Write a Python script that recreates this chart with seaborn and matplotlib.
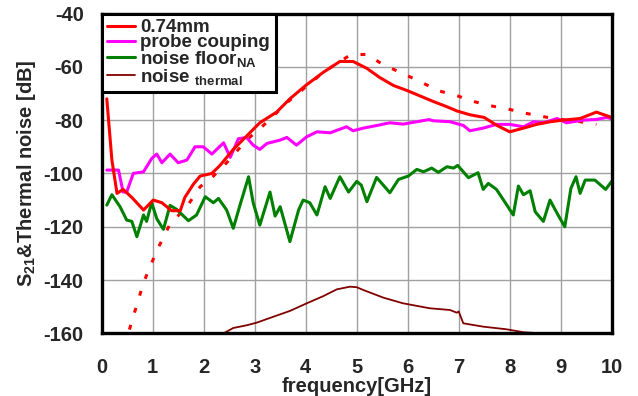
import numpy as np
import pandas as pd
import seaborn as sns
import matplotlib
matplotlib.use("Agg")
import matplotlib.pyplot as plt

# ---- data ----
freq_solid = [0.1, 0.2, 0.3, 0.42, 0.59, 0.82, 1.01, 1.18, 1.37, 1.54, 1.63, 1.8, 1.93, 2.16, 2.32,
              2.58, 2.84, 3.1, 3.43, 3.69, 4.0, 4.35, 4.67, 4.93, 5.2, 5.45, 5.72, 6.0, 6.25,
              6.5, 6.77, 6.97, 7.22, 7.5, 7.75, 8.0, 8.27, 8.53, 8.8, 9.05, 9.38, 9.7, 10.0]
s21_074mm = [-72, -95, -107.5, -106, -109, -113.75, -110, -111, -114, -114, -109, -104, -101, -100, -97,
             -91, -86, -81, -77, -72, -67, -62, -58, -58, -60.6, -64, -67, -69, -71,
             -73, -75, -76.6, -78, -79, -82, -84.4, -83, -81.6, -80.6, -80, -79.4, -77, -79]

freq_sim = [0.45, 0.56, 0.82, 1.08, 1.34, 1.67, 1.93, 2.19, 2.45, 2.84, 3.17, 3.69, 4.35, 4.87,
            5.2, 5.5, 5.9, 6.25, 6.6, 6.93, 7.29, 7.62, 8.0, 8.33, 8.67, 9.0, 9.38, 9.7]
s21_sim = [-165, -157.5, -141, -129, -119, -112.5, -105, -101, -96, -87.5, -82, -72.5, -62, -55.6,
           -55.3, -59, -62.5, -65.6, -69, -70.6, -73, -74.6, -76, -77.5, -78.75, -79.75, -80.6, -81.6]

freq_probe = [0.1, 0.33, 0.42, 0.49, 0.62, 0.82, 0.98, 1.08, 1.18, 1.34, 1.5, 1.67, 1.83, 1.99,
              2.16, 2.39, 2.52, 2.68, 2.84, 2.97, 3.1, 3.24, 3.5, 3.63, 3.82, 4.02, 4.22, 4.48,
              4.8, 4.93, 5.13, 5.4, 5.65, 5.91, 6.18, 6.42, 6.5, 6.83, 7.09, 7.22, 7.48, 7.74,
              8.0, 8.27, 8.47, 8.66, 8.93, 9.11, 9.44, 9.7, 9.9, 10.0]
s21_probe = [-98.75, -98.75, -107, -107, -100, -99.4, -94.4, -92.75, -96, -92.75, -96, -95, -90, -90,
             -92.75, -88.5, -94, -87, -86.5, -89.4, -91, -88.75, -87.5, -86.5, -89.4, -86.25, -84.4, -84.75,
             -82.5, -84, -83, -82, -81, -81.5, -80.6, -79.8, -80.25, -80.6, -82, -84, -83, -81.6,
             -81.6, -82.5, -80.6, -81, -79.4, -81, -80, -79.75, -79, -79.5]

freq_floor = [0.1, 0.2, 0.36, 0.49, 0.59, 0.69, 0.82, 0.88, 0.98, 1.08, 1.21, 1.34, 1.47, 1.7, 1.86,
              2.03, 2.19, 2.29, 2.45, 2.58, 2.71, 2.88, 2.97, 3.1, 3.3, 3.4, 3.5, 3.69, 3.86, 3.95,
              4.08, 4.22, 4.38, 4.48, 4.67, 4.84, 5.0, 5.09, 5.2, 5.39, 5.65, 5.82, 6.01, 6.18,
              6.31, 6.47, 6.6, 6.77, 6.9, 6.98, 7.19, 7.38, 7.48, 7.58, 7.74, 7.9, 8.07, 8.17,
              8.27, 8.4, 8.5, 8.66, 8.79, 8.93, 9.08, 9.2, 9.3, 9.38, 9.48, 9.67, 9.88, 10.0]
noise_floor = [-111.9, -108, -112.5, -117.5, -118, -123.75, -115.6, -118, -111, -117, -121, -112, -113.5,
               -117.75, -115.6, -108.75, -111, -109.4, -113.75, -120.6, -112, -101.25, -111, -119.4,
               -107, -116, -112.5, -125.6, -113.75, -110, -111, -115.6, -105, -109.4, -101.25, -107,
               -103, -104.4, -110.6, -101.5, -107.25, -102.25, -101, -98.5, -99.4, -98, -99.6, -97.5,
               -98, -97, -101.6, -99.75, -106, -103.75, -106, -110.6, -115.6, -104.75, -108, -106.5,
               -114.4, -118, -110, -115, -120, -105.6, -101.25, -107.5, -102.5, -102.5, -106, -103]

freq_thermal = [2.2, 2.39, 2.58, 2.84, 3.04, 3.37, 3.69, 4.02, 4.35, 4.61, 4.87, 5.0, 5.13, 5.52,
                5.91, 6.43, 6.83, 6.96, 7.0, 7.09, 7.48, 7.94, 8.27, 8.6, 8.9]
noise_thermal = [-161.5, -160, -158, -157, -156, -153.75, -151.6, -148.75, -146, -143.5, -142.5, -142.7,
                 -143.75, -146.6, -148.75, -150.6, -151.25, -152.25, -151.8, -156.25, -157.5, -158.5,
                 -159.6, -160, -161]

labels = ["0.74mm", "probe couping", r"noise floor$_{\mathregular{NA}}$", r"noise $_{\mathregular{thermal}}$"]
x_ticks = list(range(0, 11))
y_ticks = list(range(-160, -39, 20))

# ---- style ----
sns.set_style("whitegrid")
plt.rcParams["font.family"] = ["Liberation Sans", "DejaVu Sans"]
plt.rcParams["font.weight"] = "bold"
plt.rcParams["mathtext.default"] = "regular"

fig = plt.figure(figsize=(6.38, 3.96), dpi=100)
ax = fig.add_axes([0.1594, 0.1583, 0.7994, 0.8076])

df_s = pd.DataFrame({"f": freq_solid, "v": s21_074mm})
df_sim = pd.DataFrame({"f": freq_sim, "v": s21_sim})
df_p = pd.DataFrame({"f": freq_probe, "v": s21_probe})
df_n = pd.DataFrame({"f": freq_floor, "v": noise_floor})
df_t = pd.DataFrame({"f": freq_thermal, "v": noise_thermal})

sns.lineplot(data=df_sim, x="f", y="v", ax=ax, color="#FF0000", linewidth=2.2,
             linestyle=(0, (1.6, 4.2)), estimator=None, sort=False)
sns.lineplot(data=df_t, x="f", y="v", ax=ax, color="#800000", linewidth=1.3,
             estimator=None, sort=False, label=labels[3])
sns.lineplot(data=df_n, x="f", y="v", ax=ax, color="#008000", linewidth=2.2,
             estimator=None, sort=False, label=labels[2])
sns.lineplot(data=df_p, x="f", y="v", ax=ax, color="#FF00FF", linewidth=2.2,
             estimator=None, sort=False, label=labels[1])
sns.lineplot(data=df_s, x="f", y="v", ax=ax, color="#FF0000", linewidth=2.2,
             estimator=None, sort=False, label=labels[0])

ax.set_xlim(0, 10)
ax.set_ylim(-160, -40)
ax.set_xticks(x_ticks)
ax.set_yticks(y_ticks)
ax.set_xticklabels([str(t) for t in x_ticks], fontsize=14.5, fontweight="bold")
ax.set_yticklabels([str(t) for t in y_ticks], fontsize=14.5, fontweight="bold")
ax.tick_params(axis="x", length=0, pad=18)
ax.tick_params(axis="y", length=0, pad=13)
ax.grid(True, color="#A0A0A0", linewidth=1.0)
for s in ax.spines.values():
    s.set_color("black")
    s.set_linewidth(2.4)
    s.set_visible(True)

ax.set_xlabel("frequency[GHz]", fontsize=14.5, fontweight="bold", labelpad=0)
ax.set_ylabel(r"S$_{\mathregular{21}}$&Thermal noise [dB]", fontsize=14.5, fontweight="bold", labelpad=4)

handles, lbls = ax.get_legend_handles_labels()
order = [lbls.index(l) for l in labels]
leg = ax.legend([handles[i] for i in order], [lbls[i] for i in order],
                loc="upper left", bbox_to_anchor=(0.0, 1.0), borderaxespad=0.0,
                frameon=True, fancybox=False, framealpha=1,
                handlelength=1.5, handletextpad=0.25, labelspacing=-0.12, borderpad=0.3,
                prop={"weight": "bold", "size": 13.5})
leg.get_frame().set_edgecolor("black")
leg.get_frame().set_linewidth(2.2)

fig.savefig("out.png", dpi=100)
